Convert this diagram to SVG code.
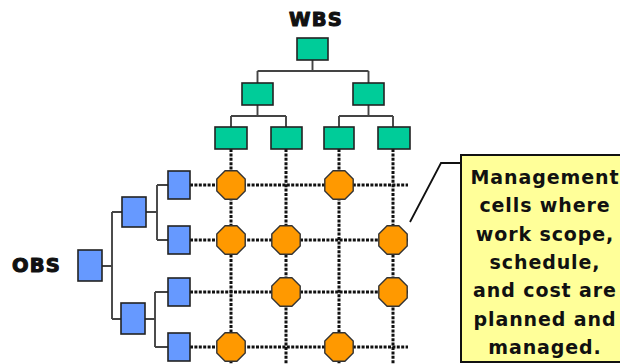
<svg xmlns="http://www.w3.org/2000/svg" width="620" height="364" viewBox="0 0 620 364">
  <defs>
    <style>
      .wbs { fill: #00cc99; stroke: #222; stroke-width: 1.6; }
      .obs { fill: #6699ff; stroke: #222; stroke-width: 1.6; }
      .cell { fill: #ff9900; stroke: #333; stroke-width: 1.4; }
      .tree { fill: none; stroke: #444; stroke-width: 1.9; }
      .grid { fill: none; stroke: #111; stroke-width: 3; stroke-dasharray: 3 1.4; }
      .title { font-family: "DejaVu Sans", "Liberation Sans", sans-serif; font-weight: bold; font-size: 19.5px; fill: #111; stroke: #111; stroke-width: 1.1; stroke-linejoin: round; letter-spacing: 1.2px; }
      .note { font-family: "DejaVu Sans", "Liberation Sans", sans-serif; font-weight: bold; font-size: 19px; fill: #111; letter-spacing: 0.9px; text-anchor: middle; }
    </style>
    <polygon id="oct" points="-5.9,-14.2 5.9,-14.2 14.2,-5.9 14.2,5.9 5.9,14.2 -5.9,14.2 -14.2,5.9 -14.2,-5.9"/>
  </defs>

  <rect width="620" height="364" fill="#ffffff"/>

  <!-- connectors: hierarchy lines and dotted responsibility grid -->
  <g id="connectors">
    <!-- WBS tree -->
    <path class="tree" d="M312.5,60 V71 M257.5,71 H368.5 M257.5,71 V83 M368.5,71 V83"/>
    <path class="tree" d="M257.5,105 V116 M231,116 H286 M231,116 V127 M286,116 V127"/>
    <path class="tree" d="M368.5,105 V116 M339,116 H393 M339,116 V127 M393,116 V127"/>
    <!-- OBS tree -->
    <path class="tree" d="M102,266 H112 M112,212 V319 M112,212 H122 M112,319 H121"/>
    <path class="tree" d="M146,212 H157 M157,185 V240 M157,185 H168 M157,240 H168"/>
    <path class="tree" d="M145,319 H155 M155,292 V347 M155,292 H168 M155,347 H168"/>
    <!-- grid: columns from WBS leaves -->
    <path class="grid" d="M231,149 V364 M286,149 V364 M339,149 V364 M393,149 V364"/>
    <!-- grid: rows from OBS leaves -->
    <path class="grid" d="M190,185 H408 M190,240 H408 M190,292 H408 M190,347 H408"/>
    <!-- callout leader -->
    <polyline points="410,222 441,163 461,163" fill="none" stroke="#111" stroke-width="1.8"/>
  </g>

  <!-- WBS -->
  <text class="title" x="289" y="26">WBS</text>
  <g id="wbs-root"><rect class="wbs" x="297" y="38" width="31" height="22"/></g>
  <g id="wbs-1"><rect class="wbs" x="242" y="83" width="31" height="22"/></g>
  <g id="wbs-2"><rect class="wbs" x="353" y="83" width="31" height="22"/></g>
  <g id="wbs-1-1"><rect class="wbs" x="215" y="127" width="32" height="22"/></g>
  <g id="wbs-1-2"><rect class="wbs" x="271" y="127" width="31" height="22"/></g>
  <g id="wbs-2-1"><rect class="wbs" x="324" y="127" width="30" height="22"/></g>
  <g id="wbs-2-2"><rect class="wbs" x="378" y="127" width="32" height="22"/></g>

  <!-- OBS -->
  <text class="title" x="12" y="272">OBS</text>
  <g id="obs-root"><rect class="obs" x="78" y="250" width="24" height="31"/></g>
  <g id="obs-1"><rect class="obs" x="122" y="197" width="24" height="30"/></g>
  <g id="obs-2"><rect class="obs" x="121" y="303" width="24" height="31"/></g>
  <g id="obs-1-1"><rect class="obs" x="168" y="171" width="22" height="28"/></g>
  <g id="obs-1-2"><rect class="obs" x="168" y="226" width="22" height="28"/></g>
  <g id="obs-2-1"><rect class="obs" x="168" y="278" width="22" height="28"/></g>
  <g id="obs-2-2"><rect class="obs" x="168" y="333" width="22" height="28"/></g>

  <!-- management cells -->
  <g id="cell-1-1"><use href="#oct" class="cell" x="231" y="185"/></g>
  <g id="cell-1-3"><use href="#oct" class="cell" x="339" y="185"/></g>
  <g id="cell-2-1"><use href="#oct" class="cell" x="231" y="240"/></g>
  <g id="cell-2-2"><use href="#oct" class="cell" x="286" y="240"/></g>
  <g id="cell-2-4"><use href="#oct" class="cell" x="393" y="240"/></g>
  <g id="cell-3-2"><use href="#oct" class="cell" x="286" y="292"/></g>
  <g id="cell-3-4"><use href="#oct" class="cell" x="393" y="292"/></g>
  <g id="cell-4-1"><use href="#oct" class="cell" x="231" y="347"/></g>
  <g id="cell-4-3"><use href="#oct" class="cell" x="339" y="347"/></g>

  <!-- callout -->
  <g id="callout">
    <rect x="461" y="155" width="175" height="207" fill="#ffff99" stroke="#111" stroke-width="2"/>
    <text class="note" x="545" y="184">Management</text>
    <text class="note" x="545" y="212.3">cells where</text>
    <text class="note" x="545" y="240.6">work scope,</text>
    <text class="note" x="545" y="269">schedule,</text>
    <text class="note" x="545" y="297.2">and cost are</text>
    <text class="note" x="545" y="325.5">planned and</text>
    <text class="note" x="545" y="353.8">managed.</text>
  </g>
</svg>
